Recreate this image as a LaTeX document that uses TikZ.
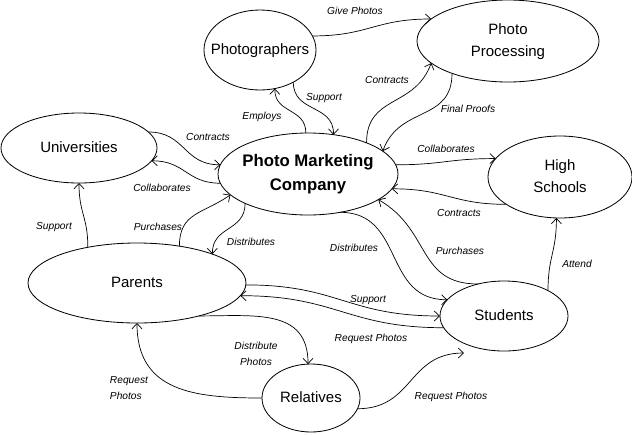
\documentclass[tikz,border=0pt]{standalone}
\usepackage{fontspec}
\setmainfont{Liberation Sans}
\usetikzlibrary{shapes.geometric, arrows.meta}
\newcommand{\ctr}[1]{\makebox[0pt]{\begin{tabular}{@{}c@{}}#1\end{tabular}}}

\begin{document}
\begin{tikzpicture}[x=0.03cm, y=0.03cm, every node/.style={outer sep=0pt}]
\tikzstyle{entity}=[draw, ellipse, inner sep=0pt, line width=0.7pt, font=\fontsize{12.8}{18.7}\selectfont]
\tikzstyle{lbl}=[inner sep=0pt, font=\fontsize{8.7}{13.6}\selectfont\itshape]
\tikzstyle{flow}=[line width=0.6pt, looseness=1.2, -{Straight Barb[length=4.5pt,width=8.5pt]}]

\useasboundingbox (0,0) rectangle (632,-434);

% entities
\node (photog) [entity, minimum width=3.36cm, minimum height=2.4cm] at (260,-50) {\ctr{Photographers}};
\node (proc) [entity, minimum width=5.46cm, minimum height=2.46cm] at (508,-41) {\ctr{Photo\\Processing}};
\node (univ) [entity, minimum width=4.68cm, minimum height=2.1cm] at (79,-148) {\ctr{Universities}};
\node (pmc) [entity, minimum width=5.4cm, minimum height=2.46cm, font=\fontsize{14.3}{20.4}\selectfont\bfseries] at (308,-174) {\ctr{Photo Marketing\\Company}};
\node (hs) [entity, minimum width=4.32cm, minimum height=2.46cm] at (560,-177) {\ctr{High\\Schools}};
\node (par) [entity, minimum width=6.54cm, minimum height=2.4cm] at (137,-283) {\ctr{Parents}};
\node (stu) [entity, minimum width=3.84cm, minimum height=2.1cm] at (504,-316) {\ctr{Students}};
\node (rel) [entity, minimum width=2.94cm, minimum height=2.04cm] at (311,-398) {\ctr{Relatives}};
\coordinate (free) at (464,-353);

% flows
\draw [flow] (photog.15) to[out=0, in=180] (proc.164);
\draw [flow] (pmc.93) to[out=90, in=-90] (photog.-69);
\draw [flow] (photog.-44) to[out=-90, in=90] (pmc.57);
\draw [flow] (pmc.28) to[out=90, in=-110] (proc.-164);
\draw [flow] (proc.-150) to[out=-90, in=70] (pmc.17);
\draw [flow] (univ.13) to[out=0, in=180] (pmc.174);
\draw [flow] (pmc.186) to[out=180, in=0] (univ.-10);
\draw [flow] (pmc.6) to[out=0, in=180] (hs.164);
\draw [flow] (hs.-153) to[out=180, in=0] (pmc.-10);
\draw [flow] (stu.129) to[out=180, in=-30] (pmc.-20);
\draw [flow] (pmc.-50) to[out=0, in=180] (stu.164);
\draw [flow] (par.144) to[out=90, in=-90] (univ.-90);
\draw [flow] (par.41) to[out=90, in=-145] (pmc.195);
\draw [flow] (pmc.-155) to[out=-90, in=90] (par.21);
\draw [flow] (par.-1) to[out=0, in=180] (stu.180);
\draw [flow] (stu.191) to[out=180, in=0] (par.-7);
\draw [flow] (par.-28) to[out=0, in=90] (rel.95);
\draw [flow] (rel.180) to[out=180, in=-90] (par.-90);
\draw [flow] (rel.-13) to[out=0, in=180] (free);
\draw [flow] (stu.30) to[out=90, in=-90] (hs.-95);

% labels
\node (l1) [lbl] at (355,-11) {Give Photos};
\node (l2) [lbl] at (262,-117) {Employs};
\node (l3) [lbl] at (324,-98) {Support};
\node (l4) [lbl] at (387,-80) {Contracts};
\node (l5) [lbl] at (468,-109) {Final Proofs};
\node (l6) [lbl] at (208,-137) {Contracts};
\node (l7) [lbl] at (162,-188) {Collaborates};
\node (l8) [lbl] at (446,-149) {Collaborates};
\node (l9) [lbl] at (459,-213) {Contracts};
\node (l10) [lbl] at (460,-251) {Purchases};
\node (l11) [lbl] at (354,-248) {Distributes};
\node (l12) [lbl] at (54,-227) {Support};
\node (l13) [lbl] at (158,-227) {Purchases};
\node (l14) [lbl] at (251,-242) {Distributes};
\node (l15) [lbl] at (368,-300) {Support};
\node (l16) [lbl] at (371,-339) {Request Photos};
\node (l17) [lbl, align=center] at (256,-354) {Distribute\\Photos};
\node (l18) [lbl, align=left, anchor=west] at (110,-388) {Request\\Photos};
\node (l19) [lbl] at (451,-397) {Request Photos};
\node (l20) [lbl] at (577,-264) {Attend};

\end{tikzpicture}
\end{document}
